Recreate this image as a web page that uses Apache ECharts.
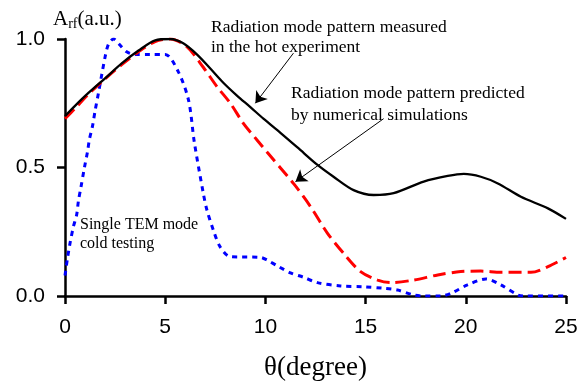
<!DOCTYPE html>
<html>
<head>
<meta charset="utf-8">
<script src="https://cdn.jsdelivr.net/npm/echarts@6/dist/echarts.min.js"></script>
<style>
  html, body { margin: 0; padding: 0; background: #fff; }
  #chart { width: 581px; height: 382px; }
</style>
</head>
<body>
<div id="chart"></div>
<script>
// theta (degree), amplitude (a.u.)
var hotExperiment = [
  [0, 0.70], [0.5, 0.74], [1.17, 0.79], [2, 0.847], [2.83, 0.905], [3.67, 0.955],
  [4.5, 0.995], [5.25, 1.0], [5.9, 0.983], [6.58, 0.94], [7.25, 0.885], [7.9, 0.83],
  [8.58, 0.78], [9.25, 0.735], [9.9, 0.69], [10.75, 0.635], [11.6, 0.578], [12.6, 0.51],
  [13.4, 0.464], [14.4, 0.412], [15.4, 0.393], [16.4, 0.40], [17.9, 0.445], [19.1, 0.467],
  [19.9, 0.475], [20.75, 0.464], [21.6, 0.438], [22.75, 0.386], [24.1, 0.341], [25, 0.30]
];
var simulation = [
  [0, 0.69], [0.5, 0.73], [1.17, 0.785], [2, 0.845], [2.83, 0.9], [3.67, 0.95],
  [4.5, 0.99], [5.25, 1.0], [6.08, 0.97], [6.9, 0.89], [7.58, 0.815], [8.25, 0.75],
  [8.9, 0.672], [9.58, 0.607], [10.08, 0.56], [11.4, 0.438], [12.25, 0.348], [13.1, 0.244],
  [13.9, 0.166], [14.75, 0.095], [15.6, 0.062], [16.25, 0.052], [17.4, 0.062], [18.6, 0.082],
  [19.75, 0.095], [20.75, 0.097], [21.75, 0.092], [23.25, 0.092], [24.1, 0.114], [25, 0.15]
];
var coldTest = [
  [0, 0.08], [0.13, 0.15], [0.25, 0.205], [0.42, 0.27], [0.58, 0.315], [0.67, 0.37],
  [0.8, 0.425], [0.97, 0.5], [1.12, 0.56], [1.22, 0.61], [1.37, 0.66], [1.5, 0.72],
  [1.67, 0.79], [2.0, 0.93], [2.17, 0.98], [2.42, 1.0], [2.7, 0.98], [3.08, 0.95],
  [3.5, 0.94], [4.25, 0.94], [5.0, 0.94], [5.67, 0.87], [6.17, 0.76], [6.45, 0.60],
  [6.9, 0.40], [7.08, 0.335], [7.4, 0.257], [7.75, 0.19], [8.25, 0.153], [9.75, 0.15],
  [10.08, 0.14], [10.67, 0.114], [11.25, 0.09], [11.9, 0.073], [12.6, 0.052], [13.75, 0.039],
  [14.9, 0.036], [15.9, 0.03], [16.6, 0.023], [17.4, 0.004], [17.9, 0], [18.75, 0],
  [19.25, 0.01], [20.08, 0.043], [21, 0.066], [21.75, 0.043], [22.6, 0.004], [22.9, 0], [25, 0]
];
var xTicks = [0, 5, 10, 15, 20, 25];
var yTicks = [0, 0.5, 1.0];

// annotation arrows, in data coordinates [from, to]
var arrowHot = [[11.4, 0.945], [9.5, 0.75]];
var arrowSim = [[15.9, 0.69], [11.5, 0.445]];

var serif = "'Liberation Serif', 'DejaVu Serif', serif";
var sans = "'Liberation Sans', Arial, sans-serif";

function arrowLine(pair) {
  return [{ coord: pair[0], symbol: "none" }, { coord: pair[1], symbol: "arrow" }];
}

var chart = echarts.init(document.getElementById("chart"));
var option = {
  animation: false,
  grid: { left: 65, right: 15, top: 39, bottom: 86, outerBoundsMode: "none", containLabel: false },
  xAxis: {
    type: "value",
    min: xTicks[0],
    max: xTicks[xTicks.length - 1],
    interval: 5,
    name: "θ(degree)",
    nameLocation: "middle",
    nameGap: 58,
    nameTextStyle: { fontFamily: serif, fontSize: 27, color: "#000" },
    axisLine: { onZero: false, lineStyle: { color: "#000", width: 2.5 } },
    axisTick: { show: true, inside: false, length: 8, lineStyle: { color: "#000", width: 2.5 } },
    axisLabel: { margin: 21, fontFamily: sans, fontSize: 21, color: "#000" },
    splitLine: { show: false }
  },
  yAxis: {
    type: "value",
    min: yTicks[0],
    max: yTicks[yTicks.length - 1],
    interval: 0.5,
    axisLine: { show: true, lineStyle: { color: "#000", width: 2.5 } },
    axisTick: { show: true, inside: false, length: 8, lineStyle: { color: "#000", width: 2.5 } },
    axisLabel: {
      margin: 20, fontFamily: sans, fontSize: 21, color: "#000",
      formatter: function (v) { return v.toFixed(1); }
    },
    splitLine: { show: false }
  },
  graphic: [
    {
      type: "text", left: 53, top: 9,
      style: {
        text: "{a|A}{s|rf}{a|(a.u.)}",
        rich: {
          a: { fontFamily: serif, fontSize: 21, fill: "#000" },
          s: { fontFamily: serif, fontSize: 14, fill: "#000", verticalAlign: "bottom", padding: [9, 0, 0, 0] }
        }
      }
    },
    {
      type: "text", left: 211, top: 17,
      style: {
        text: "Radiation mode pattern measured\nin the hot experiment",
        fontFamily: serif, fontSize: 17.5, lineHeight: 20, fill: "#000"
      }
    },
    {
      type: "text", left: 291, top: 82,
      style: {
        text: "Radiation mode pattern predicted\nby numerical simulations",
        fontFamily: serif, fontSize: 17.5, lineHeight: 22, fill: "#000"
      }
    },
    {
      type: "text", left: 80, top: 215,
      style: {
        text: "Single TEM mode\ncold testing",
        fontFamily: serif, fontSize: 16, lineHeight: 19, fill: "#000"
      }
    }
  ],
  series: [
    {
      name: "hot experiment",
      type: "line",
      data: hotExperiment,
      smooth: 0.3,
      showSymbol: false,
      lineStyle: { color: "#000", width: 2.3, type: "solid" },
      z: 3,
      markLine: {
        silent: true,
        symbolSize: 11,
        label: { show: false },
        lineStyle: { color: "#000", width: 1, type: "solid" },
        data: [arrowLine(arrowHot), arrowLine(arrowSim)]
      }
    },
    {
      name: "simulation",
      type: "line",
      data: simulation,
      smooth: 0.3,
      showSymbol: false,
      lineStyle: { color: "#ff0000", width: 3, type: [13, 6] },
      z: 2
    },
    {
      name: "cold testing",
      type: "line",
      data: coldTest,
      smooth: 0.3,
      showSymbol: false,
      lineStyle: { color: "#0000ff", width: 3, type: [5, 5] },
      z: 1
    }
  ]
};
chart.setOption(option);
</script>
</body>
</html>
